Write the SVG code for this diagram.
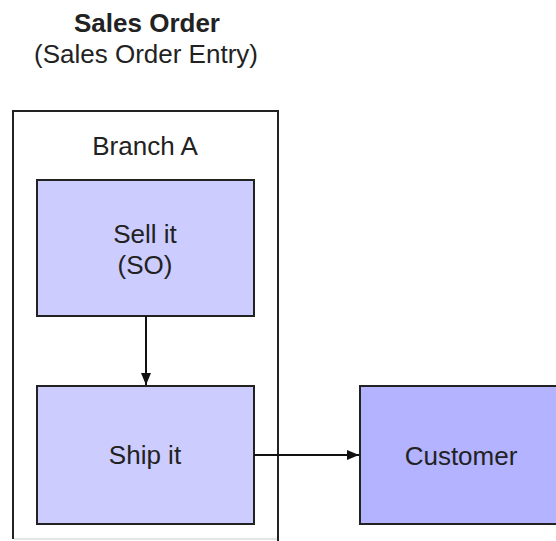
<svg xmlns="http://www.w3.org/2000/svg" width="556" height="541" viewBox="0 0 556 541">
  <defs>
    <style>
      .t { font-family: "Liberation Sans", Arial, sans-serif; font-size: 26px; fill: #222; text-anchor: middle; }
      .b { font-weight: bold; }
      .box { stroke: #222; stroke-width: 2; }
      .conn { stroke: #111; stroke-width: 2; fill: none; }
    </style>
    <marker id="arr" markerWidth="12" markerHeight="10" refX="12" refY="5" orient="auto" markerUnits="userSpaceOnUse">
      <path d="M0,0 L12,5 L0,10 Z" fill="#111"/>
    </marker>
  </defs>
  <rect width="556" height="541" fill="#fff"/>
  <g id="title">
    <text class="t b" x="147" y="32">Sales Order</text>
    <text class="t" x="146" y="63">(Sales Order Entry)</text>
  </g>
  <g id="branchA">
    <path d="M13,539 L13,111 L278,111 L278,541" fill="none" stroke="#222" stroke-width="2"/>
    <line x1="14" y1="539" x2="277" y2="539" stroke="#ddd" stroke-width="1.5"/>
    <text class="t" x="145" y="155">Branch A</text>
  </g>
  <g id="sellit">
    <rect class="box" x="37" y="180" width="217" height="136" fill="#ccccff"/>
    <text class="t" x="145" y="243">Sell it</text>
    <text class="t" x="145" y="274">(SO)</text>
  </g>
  <g id="shipit">
    <rect class="box" x="37" y="386" width="217" height="138" fill="#ccccff"/>
    <text class="t" x="145" y="464">Ship it</text>
  </g>
  <g id="customer">
    <rect class="box" x="360" y="386" width="200" height="138" fill="#b3b3ff"/>
    <text class="t" x="461" y="465">Customer</text>
  </g>
  <g id="connectors">
    <line class="conn" x1="146" y1="316" x2="146" y2="385" marker-end="url(#arr)"/>
    <line class="conn" x1="254" y1="455" x2="359" y2="455" marker-end="url(#arr)"/>
  </g>
</svg>
